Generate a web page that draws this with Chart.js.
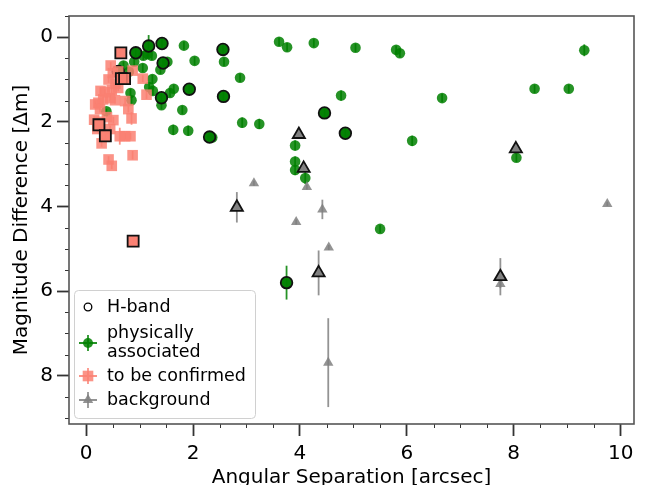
<!DOCTYPE html>
<html lang="en">
<head>
<meta charset="UTF-8">
<title>Magnitude Difference vs Angular Separation</title>
<script src="https://cdn.jsdelivr.net/npm/chart.js@4.4.0/dist/chart.umd.min.js"></script>
<style>
  html, body { margin: 0; padding: 0; background: #fff; }
  #wrap { position: relative; width: 649px; height: 485px; }
</style>
</head>
<body>
<div id="wrap"><canvas id="sepChart"></canvas></div>
<script>
// physically associated companions (all, incl. the H-band ones)
const physX = [1.07, 1.23, 1.15, 1.52, 0.90, 1.39, 0.70, 1.06, 1.24, 0.80, 0.83, 0.85, 1.18, 1.25,
  1.41, 1.64, 1.57, 1.80, 1.63, 1.91, 2.36, 1.83, 2.03, 2.58, 2.88, 2.92, 3.24, 0.38, 3.61, 3.76,
  4.26, 5.04, 5.80, 5.87, 9.32, 4.77, 6.66, 8.39, 9.03, 6.10, 3.91, 3.91, 3.91, 4.10, 8.05, 5.50,
  1.17, 1.42, 0.93, 1.44, 2.56, 1.93, 2.57, 1.41, 2.31, 4.46, 4.85, 3.75, 0.60];
const physY = [0.44, 0.44, 0.40, 0.58, 0.58, 0.77, 0.67, 0.73, 0.99, 0.82, 1.32, 1.49, 1.18, 1.27,
  1.61, 1.22, 1.32, 1.72, 2.19, 2.21, 2.37, 0.20, 0.56, 0.58, 0.96, 2.02, 2.05, 1.75, 0.11, 0.24,
  0.14, 0.25, 0.30, 0.38, 0.31, 1.38, 1.44, 1.22, 1.22, 2.45, 2.56, 2.94, 3.14, 3.33, 2.85, 4.53,
  0.21, 0.15, 0.37, 0.61, 0.29, 1.23, 1.40, 1.43, 2.36, 1.79, 2.27, 5.80, 0.81];
const physErr = [0.10, 0.10, 0.10, 0.10, 0.10, 0.10, 0.10, 0.10, 0.10, 0.10, 0.10, 0.10, 0.10, 0.10,
  0.10, 0.10, 0.10, 0.10, 0.12, 0.12, 0.12, 0.10, 0.10, 0.10, 0.10, 0.12, 0.12, 0.06, 0.10, 0.10,
  0.10, 0.10, 0.10, 0.10, 0.14, 0.12, 0.10, 0.10, 0.10, 0.12, 0.12, 0.12, 0.12, 0.14, 0.10, 0.10,
  0.26, 0.10, 0.10, 0.10, 0.10, 0.10, 0.10, 0.10, 0.10, 0.10, 0.10, 0.40, 0.10];

// to be confirmed
const confX = [0.46, 0.42, 0.27, 0.48, 0.17, 0.23, 0.32, 0.45, 0.54, 0.73, 0.79, 0.26, 0.39, 0.51,
  0.85, 0.21, 0.45, 0.29, 0.63, 0.73, 0.83, 0.42, 0.48, 0.87, 0.87, 1.06, 1.13, 0.55, 0.50, 0.35,
  0.60, 0.15, 0.25, 0.60, 0.65, 0.66, 0.72, 0.24, 0.36, 0.88];
const confY = [0.67, 1.00, 1.27, 1.25, 1.59, 1.55, 1.47, 1.44, 1.49, 1.51, 1.70, 1.70, 1.89, 1.96,
  1.92, 2.17, 2.17, 2.51, 2.34, 2.34, 2.34, 2.89, 3.04, 2.79, 0.79, 0.98, 1.36, 1.10, 0.85, 1.30,
  1.20, 1.95, 2.00, 0.81, 0.37, 0.98, 0.98, 2.07, 2.33, 4.82];
const confErr = [0.08, 0.08, 0.08, 0.08, 0.08, 0.08, 0.08, 0.08, 0.08, 0.08, 0.08, 0.08, 0.08, 0.08,
  0.15, 0.08, 0.08, 0.08, 0.20, 0.08, 0.08, 0.08, 0.08, 0.10, 0.08, 0.08, 0.10, 0.08, 0.08, 0.08,
  0.08, 0.08, 0.08, 0.08, 0.08, 0.08, 0.08, 0.08, 0.08, 0.08];

// background sources
const bgX = [3.14, 4.13, 3.93, 4.42, 4.54, 4.53, 9.75, 7.75, 3.98, 4.07, 2.82, 4.35, 7.75, 8.04];
const bgY = [3.45, 3.54, 4.37, 4.07, 4.97, 7.69, 3.94, 5.83, 2.30, 3.10, 4.02, 5.57, 5.66, 2.64];
const bgErr = [0.06, 0.06, 0.06, 0.23, 0.06, 1.05, 0.05, 0.10, 0.05, 0.08, 0.36, 0.53, 0.44, 0.12];

// H-band detections (open markers drawn over the category points)
const hPhysX = [1.17, 1.42, 0.93, 1.44, 2.56, 1.93, 2.57, 1.41, 2.31, 4.46, 4.85, 3.75, 0.60];
const hPhysY = [0.21, 0.15, 0.37, 0.61, 0.29, 1.23, 1.40, 1.43, 2.36, 1.79, 2.27, 5.80, 0.81];
const hConfX = [0.65, 0.66, 0.72, 0.24, 0.36, 0.88];
const hConfY = [0.37, 0.98, 0.98, 2.07, 2.33, 4.82];
const hBgX = [3.98, 4.07, 2.82, 4.35, 7.75, 8.04];
const hBgY = [2.30, 3.10, 4.02, 5.57, 5.66, 2.64];

const xTicks = [0, 2, 4, 6, 8, 10];
const yTicks = [0, 2, 4, 6, 8];

const legendItems = ['H-band', 'physically|associated', 'to be confirmed', 'background'];

const GREEN = 'rgba(0,128,0,0.85)';
const PINK = 'rgba(250,128,114,0.85)';
const GRAY = 'rgba(128,128,128,0.85)';
const FONT = '"DejaVu Sans", sans-serif';

const pts = (xs, ys) => xs.map((x, i) => ({ x, y: ys[i] }));

// vertical error bars, drawn under the markers
const errorBars = {
  id: 'errorBars',
  beforeDatasetsDraw(chart) {
    const { ctx, scales: { x, y } } = chart;
    chart.data.datasets.forEach(ds => {
      if (!ds.errors) return;
      ctx.save();
      ctx.strokeStyle = ds.errorColor;
      ctx.lineWidth = 1.8;
      ds.data.forEach((p, j) => {
        const e = ds.errors[j];
        if (!e) return;
        const px = x.getPixelForValue(p.x);
        ctx.beginPath();
        ctx.moveTo(px, y.getPixelForValue(p.y - e));
        ctx.lineTo(px, y.getPixelForValue(p.y + e));
        ctx.stroke();
      });
      ctx.restore();
    });
  }
};

// frame, minor ticks and the in-axes legend
const frameAndLegend = {
  id: 'frameAndLegend',
  afterDraw(chart) {
    const { ctx, chartArea: a, scales: { x, y } } = chart;
    ctx.save();
    // minor ticks every 0.5
    ctx.strokeStyle = '#333';
    ctx.lineWidth = 1;
    for (let v = Math.ceil(x.min * 2) / 2; v <= x.max; v += 0.5) {
      if (v % 2 === 0) continue;
      const px = Math.round(x.getPixelForValue(v)) + 0.5;
      ctx.beginPath(); ctx.moveTo(px, a.bottom); ctx.lineTo(px, a.bottom + 4); ctx.stroke();
    }
    for (let v = Math.ceil(y.min * 2) / 2; v <= y.max; v += 0.5) {
      if (v % 2 === 0) continue;
      const py = Math.round(y.getPixelForValue(v)) + 0.5;
      ctx.beginPath(); ctx.moveTo(a.left, py); ctx.lineTo(a.left - 4, py); ctx.stroke();
    }
    // frame
    ctx.strokeStyle = '#555';
    ctx.lineWidth = 1.6;
    ctx.strokeRect(a.left, a.top, a.right - a.left, a.bottom - a.top);

    // legend box
    const bx = a.left + 5.5, bw = 181, bh = 128, by = a.bottom - 5.5 - bh;
    ctx.beginPath();
    ctx.roundRect(bx, by, bw, bh, 4);
    ctx.fillStyle = 'rgba(255,255,255,0.8)';
    ctx.fill();
    ctx.strokeStyle = '#d0d0d0';
    ctx.lineWidth = 1;
    ctx.stroke();

    const mx = bx + 13.5, tx = bx + 32.5;
    const rows = [by + 16.5, by + 52.5, by + 85.5, by + 109.5];
    ctx.font = '17.5px ' + FONT;
    ctx.fillStyle = '#000';
    ctx.textBaseline = 'middle';
    ctx.textAlign = 'left';
    legendItems.forEach((t, i) => {
      const lines = t.split('|');
      if (lines.length === 2) {
        ctx.fillText(lines[0], tx, rows[i] - 10);
        ctx.fillText(lines[1], tx, rows[i] + 9);
      } else {
        ctx.fillText(lines[0], tx, rows[i]);
      }
    });

    // H-band: open circle
    ctx.beginPath();
    ctx.arc(mx, rows[0], 3.8, 0, Math.PI * 2);
    ctx.strokeStyle = '#000';
    ctx.lineWidth = 1.3;
    ctx.stroke();

    const cross = (cy, col) => {
      ctx.strokeStyle = col;
      ctx.lineWidth = 1.8;
      ctx.beginPath();
      ctx.moveTo(mx - 9, cy); ctx.lineTo(mx + 9, cy);
      ctx.moveTo(mx, cy - 8); ctx.lineTo(mx, cy + 8);
      ctx.stroke();
    };
    cross(rows[1], GREEN);
    ctx.fillStyle = GREEN;
    ctx.beginPath(); ctx.arc(mx, rows[1], 5, 0, Math.PI * 2); ctx.fill();

    cross(rows[2], PINK);
    ctx.fillStyle = PINK;
    ctx.fillRect(mx - 5.3, rows[2] - 5.3, 10.6, 10.6);

    cross(rows[3], GRAY);
    ctx.fillStyle = GRAY;
    ctx.beginPath();
    ctx.moveTo(mx, rows[3] - 6);
    ctx.lineTo(mx + 5.2, rows[3] + 3);
    ctx.lineTo(mx - 5.2, rows[3] + 3);
    ctx.closePath();
    ctx.fill();
    ctx.restore();
  }
};

new Chart(document.getElementById('sepChart'), {
  type: 'scatter',
  data: {
    datasets: [
      { label: 'physically associated', data: pts(physX, physY), errors: physErr, errorColor: GREEN,
        pointStyle: 'circle', pointRadius: 5.3, backgroundColor: GREEN, borderWidth: 0, order: 6 },
      { label: 'H-band phys', data: pts(hPhysX, hPhysY),
        pointStyle: 'circle', pointRadius: 5.8, backgroundColor: GREEN, borderColor: '#111', borderWidth: 1.8, order: 5 },
      { label: 'to be confirmed', data: pts(confX, confY), errors: confErr, errorColor: PINK,
        pointStyle: 'rect', pointRadius: 7.5, backgroundColor: PINK, borderWidth: 0, order: 4 },
      { label: 'H-band conf', data: pts(hConfX, hConfY),
        pointStyle: 'rect', pointRadius: 7.8, backgroundColor: PINK, borderColor: '#111', borderWidth: 1.8, order: 3 },
      { label: 'background', data: pts(bgX, bgY), errors: bgErr, errorColor: GRAY,
        pointStyle: 'triangle', pointRadius: 6, backgroundColor: GRAY, borderWidth: 0, order: 2 },
      { label: 'H-band bg', data: pts(hBgX, hBgY),
        pointStyle: 'triangle', pointRadius: 7, backgroundColor: GRAY, borderColor: '#111', borderWidth: 1.8, order: 1 }
    ]
  },
  options: {
    responsive: true,
    maintainAspectRatio: false,
    animation: false,
    events: [],
    layout: { padding: { top: 4, right: 15, left: 0, bottom: 0 } },
    plugins: { legend: { display: false }, tooltip: { enabled: false } },
    scales: {
      x: {
        type: 'linear',
        min: -0.32,
        max: 10.25,
        afterFit(scale) { scale.height = 61; },
        afterBuildTicks(scale) { scale.ticks = xTicks.map(v => ({ value: v })); },
        ticks: { color: '#000', padding: 6, font: { family: FONT, size: 20 } },
        grid: { drawOnChartArea: false, tickLength: 12, tickWidth: 1.8, tickColor: '#333' },
        border: { display: false },
        title: { display: true, text: 'Angular Separation [arcsec]', color: '#000',
          font: { family: FONT, size: 20, lineHeight: 0.7 }, padding: { top: 0, bottom: 0 } }
      },
      y: {
        type: 'linear',
        reverse: true,
        min: -0.5,
        max: 9.14,
        afterFit(scale) { scale.width = 69; },
        afterBuildTicks(scale) { scale.ticks = yTicks.map(v => ({ value: v })); },
        ticks: { color: '#000', padding: 4, font: { family: FONT, size: 20 } },
        grid: { drawOnChartArea: false, tickLength: 12, tickWidth: 1.8, tickColor: '#333' },
        border: { display: false },
        title: { display: true, text: 'Magnitude Difference [Δm]', color: '#000',
          font: { family: FONT, size: 20, lineHeight: 1 }, padding: { top: 11.5, bottom: 0 } }
      }
    }
  },
  plugins: [errorBars, frameAndLegend]
});
</script>
</body>
</html>
